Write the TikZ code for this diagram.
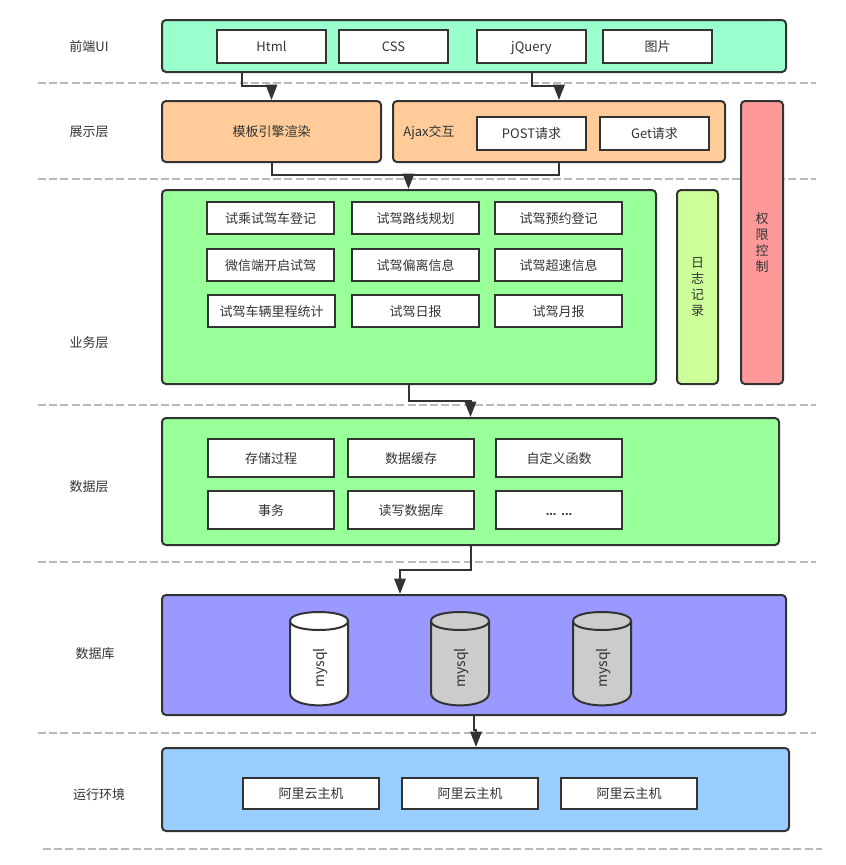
\documentclass[tikz,border=0pt]{standalone}
\usepackage{fontspec}
\setmainfont{Noto Sans CJK SC}
\newfontfamily\dotfont{Liberation Sans}
\usetikzlibrary{arrows.meta}
\definecolor{ink}{HTML}{333333}
\tikzset{
  x=0.75pt,y=-0.75pt,
  panel/.style={draw=ink,line width=1.5pt,rounded corners=3pt,inner sep=0pt},
  txt/.style={text=ink,text height=9.5pt,text depth=2pt,font=\fontsize{9.75pt}{12pt}\selectfont},
  item/.style={draw=ink,fill=white,line width=1.5pt,inner sep=0pt,txt},
  lbl/.style={inner sep=0pt,txt},
  sep/.style={draw=black!27,line width=1.1pt,dash pattern=on 6pt off 2.4pt},
  conn/.style={draw=ink,line width=1.5pt,-{Triangle[length=11.5pt,width=8.5pt,fill=ink]}},
  stack/.style={text=ink,align=center,font=\fontsize{9.75pt}{12pt}\selectfont},
}
% \bx[style]{name}{x1}{y1}{x2}{y2}{text}
\newcommand{\bx}[7][]{%
  \node[#1,minimum width=#5*0.75pt-#3*0.75pt,minimum height=#6*0.75pt-#4*0.75pt] (#2) at ({(#3+#5)/2},{(#4+#6)/2}) {#7};}
% \cyl{name}{left}{fill}
\newcommand{\cyl}[3]{%
  \draw[ink,line width=1.5pt,fill=#3] (#2,621)
     .. controls (#2,609) and (#2+58,609) .. (#2+58,621)
     -- (#2+58,693)
     .. controls (#2+58,709.5) and (#2,709.5) .. (#2,693) -- cycle;
  \draw[ink,line width=1.5pt] (#2,621) .. controls (#2,633) and (#2+58,633) .. (#2+58,621);
  \node[lbl,rotate=90,font=\fontsize{10.5pt}{12pt}\selectfont] (#1) at (#2+29,668) {mysql};}
\begin{document}
\begin{tikzpicture}
\useasboundingbox (0,0) rectangle (846,865);
\fill[white] (0,0) rectangle (846,865);
% separators
\coordinate (s1a) at (38,83);  \coordinate (s1b) at (816,83);
\coordinate (s2a) at (38,179); \coordinate (s2b) at (816,179);
\coordinate (s3a) at (38,405); \coordinate (s3b) at (816,405);
\coordinate (s4a) at (38,562); \coordinate (s4b) at (816,562);
\coordinate (s5a) at (38,733); \coordinate (s5b) at (816,733);
\coordinate (s6a) at (43,849); \coordinate (s6b) at (822,849);
\foreach \i in {1,...,6} \draw[sep] (s\i a) -- (s\i b);
% row labels
\node[lbl] (l1) at (89,46) {前端UI};
\node[lbl] (l2) at (89,131) {展示层};
\node[lbl] (l3) at (89,342) {业务层};
\node[lbl] (l4) at (89,486) {数据层};
\node[lbl] (l5) at (95,653) {数据库};
\node[lbl] (l6) at (99,794) {运行环境};
% panels
\bx[panel,fill={rgb,255:red,153;green,255;blue,204}]{fe}{162}{20}{786}{72}{}
\bx[panel,fill={rgb,255:red,255;green,204;blue,153},txt]{tmpl}{162}{101}{381}{162}{模板引擎渲染}
\bx[panel,fill={rgb,255:red,255;green,204;blue,153}]{ajax}{393}{101}{725}{162}{}
\bx[panel,fill={rgb,255:red,255;green,153;blue,153},stack]{perm}{741}{101}{783}{384}{权\\限\\控\\制}
\bx[panel,fill={rgb,255:red,153;green,255;blue,153}]{biz}{162}{190}{656}{384}{}
\bx[panel,fill={rgb,255:red,204;green,255;blue,153},stack]{log}{677}{190}{718}{384}{日\\志\\记\\录}
\bx[panel,fill={rgb,255:red,153;green,255;blue,153}]{data}{162}{418}{779}{545}{}
\bx[panel,fill={rgb,255:red,153;green,153;blue,255}]{db}{162}{595}{786}{715}{}
\bx[panel,fill={rgb,255:red,153;green,204;blue,255}]{env}{162}{748}{789}{831}{}
\node[lbl] (ajaxl) at (429,131) {Ajax交互};
% front end
\bx[item]{html}{217}{30}{326}{63}{Html}
\bx[item]{css}{339}{30}{448}{63}{CSS}
\bx[item]{jq}{477}{30}{586}{63}{jQuery}
\bx[item]{pic}{603}{30}{712}{63}{图片}
% presentation
\bx[item]{post}{477}{117}{586}{150}{POST请求}
\bx[item]{get}{600}{117}{709}{150}{Get请求}
% business
\bx[item]{b1}{207}{202}{334}{234}{试乘试驾车登记}
\bx[item]{b2}{352}{202}{479}{234}{试驾路线规划}
\bx[item]{b3}{495}{202}{622}{234}{试驾预约登记}
\bx[item]{b4}{207}{249}{334}{281}{微信端开启试驾}
\bx[item]{b5}{352}{249}{479}{281}{试驾偏离信息}
\bx[item]{b6}{495}{249}{622}{281}{试驾超速信息}
\bx[item]{b7}{208}{295}{335}{327}{试驾车辆里程统计}
\bx[item]{b8}{352}{295}{479}{327}{试驾日报}
\bx[item]{b9}{495}{295}{622}{327}{试驾月报}
% data
\bx[item]{d1}{208}{439}{334}{477}{存储过程}
\bx[item]{d2}{348}{439}{474}{477}{数据缓存}
\bx[item]{d3}{496}{439}{622}{477}{自定义函数}
\bx[item]{d4}{208}{491}{334}{529}{事务}
\bx[item]{d5}{348}{491}{474}{529}{读写数据库}
\bx[item,font=\dotfont\bfseries\fontsize{9.75pt}{12pt}\selectfont]{d6}{496}{491}{622}{529}{... ...}
% databases
\cyl{c1}{290}{white}
\cyl{c2}{431}{black!20}
\cyl{c3}{573}{black!20}
% runtime
\bx[item]{e1}{243}{778}{379}{809}{阿里云主机}
\bx[item]{e2}{402}{778}{538}{809}{阿里云主机}
\bx[item]{e3}{561}{778}{697}{809}{阿里云主机}
% connectors
\draw[conn] (fe.south -| 242,0) -- (242,86) -- (271.5,86) -- (tmpl.north);
\draw[conn] (fe.south -| 532,0) -- (532,86) -- (559,86) -- (ajax.north -| 559,0);
\draw[conn] (tmpl.south) -- (271.5,175) -- (408.5,175) -- (biz.north -| 408.5,0);
\draw[draw=ink,line width=1.5pt] (ajax.south) -- (559,175) -- (408.5,175);
\draw[conn] (biz.south) -- (409,401) -- (470.5,401) -- (data.north);
\draw[conn] (data.south) -- (470.5,570) -- (400,570) -- (db.north -| 400,0);
\draw[conn] (db.south -| 474,0) -- (474,730) -- (476,730) -- (env.north -| 476,0);
\end{tikzpicture}
\end{document}
